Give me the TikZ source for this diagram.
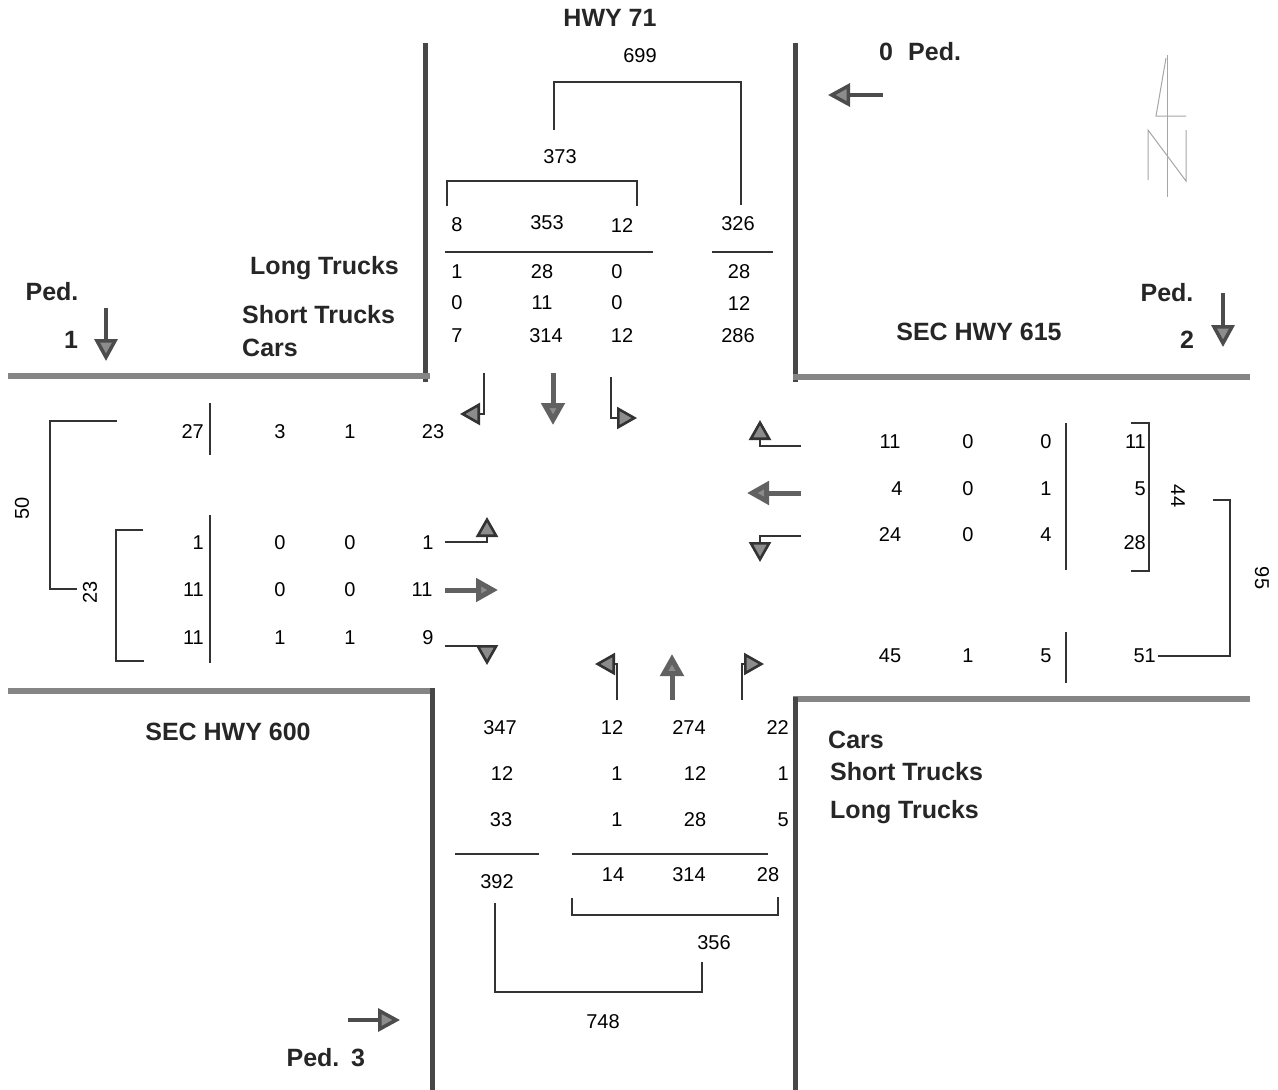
\documentclass[tikz,border=0pt]{standalone}
\usepackage{fontspec}
\setmainfont{Liberation Sans}
\usetikzlibrary{arrows.meta}
\tikzset{
  num/.style={font=\fontsize{20}{22}\selectfont, inner sep=0pt},
  lbl/.style={font=\fontsize{25}{27}\selectfont\bfseries, black!85, inner sep=0pt},
  curbdark/.style={line width=5pt, black!72},
  curbgrey/.style={line width=6pt, black!48},
  bracket/.style={line width=1.6pt, black!80},
  compass/.style={line width=1pt, black!35},
  turnarr/.style={line width=2.6pt, black!80, -{Triangle[width=22pt,length=20pt,fill=black!45]}},
  thruarr/.style={line width=5pt, black!62, -{Triangle[width=23pt,length=22pt,fill=black!45]}},
  pedarr/.style={line width=3.5pt, black!70, -{Triangle[width=23pt,length=22pt,fill=black!45]}}
}
\begin{document}
\begin{tikzpicture}[x=1pt, y=-1pt]
  \useasboundingbox (0,0) rectangle (1278,1090);

  % road edges
  \draw[curbdark] (425,43) -- (425,382);
  \draw[curbdark] (795,43) -- (795,382);
  \draw[curbgrey] (8,376) -- (430,376);
  \draw[curbgrey] (793,377) -- (1250,377);
  \draw[curbgrey] (8,691) -- (434,691);
  \draw[curbdark] (432,688) -- (432,1090);
  \draw[curbgrey] (793,699) -- (1250,699);
  \draw[curbdark] (795,697) -- (795,1090);

  % north approach
  \node[lbl] (hwy71) at (610,18) {HWY 71};
  \node[num] (nTot) at (640,56) {699};
  \draw[bracket] (554,130) |- (741,82) -- (741,205);
  \node[num] (nIn) at (560,157) {373};
  \draw[bracket] (447,206) |- (637,181) -- (637,206);
  \node[num] (nL) at (457,225) {8};
  \node[num] (nT) at (547,223) {353};
  \node[num] (nR) at (622,226) {12};
  \node[num] (nOut) at (738,224) {326};
  \draw[bracket] (445,252) -- (653,252);
  \draw[bracket] (712,252) -- (773,252);
  \node[num] (nL3) at (457,272) {1};
  \node[num] (nT3) at (542,272) {28};
  \node[num] (nR3) at (617,272) {0};
  \node[num] (nO3) at (739,272) {28};
  \node[num] (nL2) at (457,303) {0};
  \node[num] (nT2) at (542,303) {11};
  \node[num] (nR2) at (617,303) {0};
  \node[num] (nO2) at (739,304) {12};
  \node[num] (nL1) at (457,336) {7};
  \node[num] (nT1) at (546,336) {314};
  \node[num] (nR1) at (622,336) {12};
  \node[num] (nO1) at (738,336) {286};
  \node[lbl, anchor=west] (nwLong) at (250,268) {Long Trucks};
  \node[lbl, anchor=west] (nwShort) at (242,315) {Short Trucks};
  \node[lbl, anchor=west] (nwCars) at (242,348) {Cars};
  \draw[turnarr] (484,373) |- (460,414);
  \draw[thruarr] (553,373) -- (553,425);
  \draw[turnarr] (611,377) |- (637,418);

  % pedestrians
  \node[lbl] (ped1) at (52,292) {Ped.};
  \node[lbl] (ped1n) at (71,340) {1};
  \draw[pedarr] (106,308) -- (106,361);
  \node[lbl] (ped0n) at (886,52) {0};
  \node[lbl, anchor=west] (ped0) at (908,52) {Ped.};
  \draw[pedarr] (883,95) -- (828,95);
  \node[lbl] (ped2) at (1167,293) {Ped.};
  \node[lbl] (ped2n) at (1187,340) {2};
  \draw[pedarr] (1223,293) -- (1223,347);
  \node[lbl] (ped3) at (313,1058) {Ped.};
  \node[lbl] (ped3n) at (358,1058) {3};
  \draw[pedarr] (348,1020) -- (400,1020);

  % north sign
  \draw[compass] (1167,55) -- (1167,197);
  \draw[compass] (1166,58) -- (1156,116) -- (1186,116);
  \draw[compass] (1148,180) -- (1148,130) -- (1186,181) -- (1186,130);

  % east approach
  \node[lbl] (hwy615) at (979,332) {SEC HWY 615};
  \draw[turnarr] (801,446) -| (760,420);
  \draw[thruarr] (801,493) -- (747,493);
  \draw[turnarr] (801,536) -| (760,562);
  \node[num] (eR1) at (890,442) {11};
  \node[num] (eR2) at (968,442) {0};
  \node[num] (eR3) at (1046,442) {0};
  \node[num, anchor=east] (eR) at (1146,442) {11};
  \node[num] (eT1) at (897,489) {4};
  \node[num] (eT2) at (968,489) {0};
  \node[num] (eT3) at (1046,489) {1};
  \node[num, anchor=east] (eT) at (1146,489) {5};
  \node[num] (eL1) at (890,535) {24};
  \node[num] (eL2) at (968,535) {0};
  \node[num] (eL3) at (1046,535) {4};
  \node[num, anchor=east] (eL) at (1146,543) {28};
  \node[num] (eO1) at (890,656) {45};
  \node[num] (eO2) at (968,656) {1};
  \node[num] (eO3) at (1046,656) {5};
  \node[num, anchor=east] (eOut) at (1156,656) {51};
  \draw[bracket] (1066,423) -- (1066,570);
  \draw[bracket] (1066,632) -- (1066,683);
  \draw[bracket] (1131,423) -| (1149,571) -- (1131,571);
  \node[num, rotate=-90] (eIn) at (1178,496) {44};
  \draw[bracket] (1213,500) -| (1230,656) -- (1158,656);
  \node[num, rotate=-90] (eTot) at (1262,578) {95};

  % west approach
  \draw[bracket] (117,421) -| (50,589) -- (77,589);
  \node[num, rotate=90] (wTot) at (22,508) {50};
  \node[num, rotate=90] (wIn) at (90,592) {23};
  \draw[bracket] (143,530) -| (116,661) -- (144,661);
  \draw[bracket] (210,403) -- (210,455);
  \draw[bracket] (210,515) -- (210,663);
  \node[num, anchor=east] (wOut) at (204,432) {27};
  \node[num] (wO2) at (280,432) {3};
  \node[num] (wO3) at (350,432) {1};
  \node[num] (wO1) at (433,432) {23};
  \node[num, anchor=east] (wL) at (204,543) {1};
  \node[num] (wL3) at (280,543) {0};
  \node[num] (wL2) at (350,543) {0};
  \node[num] (wL1) at (428,543) {1};
  \node[num, anchor=east] (wT) at (204,590) {11};
  \node[num] (wT3) at (280,590) {0};
  \node[num] (wT2) at (350,590) {0};
  \node[num] (wT1) at (422,590) {11};
  \node[num, anchor=east] (wR) at (204,638) {11};
  \node[num] (wR3) at (280,638) {1};
  \node[num] (wR2) at (350,638) {1};
  \node[num] (wR1) at (428,638) {9};
  \draw[turnarr] (445,542) -| (487,517);
  \draw[thruarr] (445,590) -- (498,590);
  \draw[turnarr] (445,646) -| (487,665);
  \node[lbl] (hwy600) at (228,732) {SEC HWY 600};

  % south approach
  \draw[turnarr] (617,700) |- (595,664);
  \draw[thruarr] (672,700) -- (672,654);
  \draw[turnarr] (742,700) |- (764,664);
  \node[num] (sO1) at (500,728) {347};
  \node[num] (sL1) at (612,728) {12};
  \node[num] (sT1) at (689,728) {274};
  \node[num, anchor=east] (sR1) at (789,728) {22};
  \node[num] (sO2) at (502,774) {12};
  \node[num] (sL2) at (617,774) {1};
  \node[num] (sT2) at (695,774) {12};
  \node[num, anchor=east] (sR2) at (789,774) {1};
  \node[num] (sO3) at (501,820) {33};
  \node[num] (sL3) at (617,820) {1};
  \node[num] (sT3) at (695,820) {28};
  \node[num, anchor=east] (sR3) at (789,820) {5};
  \draw[bracket] (455,854) -- (539,854);
  \draw[bracket] (572,854) -- (768,854);
  \node[num] (sOut) at (497,882) {392};
  \node[num] (sL) at (613,875) {14};
  \node[num] (sT) at (689,875) {314};
  \node[num] (sR) at (768,875) {28};
  \draw[bracket] (572,898) |- (778,915) -- (778,897);
  \node[num] (sIn) at (714,943) {356};
  \draw[bracket] (495,903) |- (702,992) -- (702,962);
  \node[num] (sTot) at (603,1022) {748};
  \node[lbl, anchor=west] (seCars) at (828,740) {Cars};
  \node[lbl, anchor=west] (seShort) at (830,772) {Short Trucks};
  \node[lbl, anchor=west] (seLong) at (830,812) {Long Trucks};
\end{tikzpicture}
\end{document}
